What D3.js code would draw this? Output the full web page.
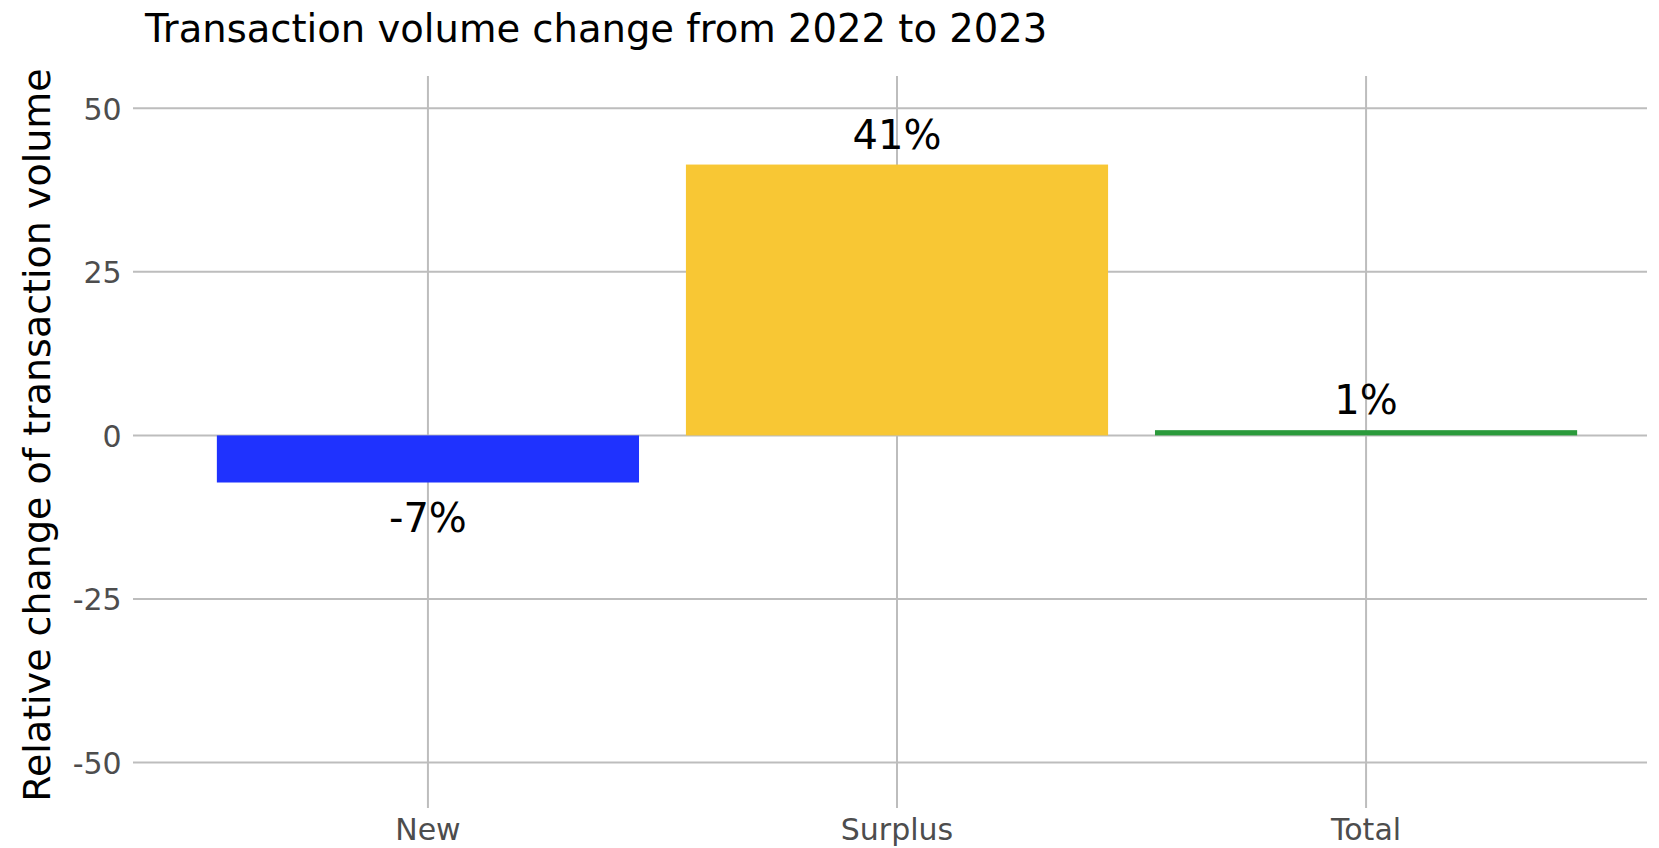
<!DOCTYPE html>
<html>
<head>
<meta charset="utf-8">
<script src="https://cdn.jsdelivr.net/npm/d3@7"></script>
<style>
  html, body { margin: 0; padding: 0; background: #fff; }
  svg { display: block; font-family: "DejaVu Sans", sans-serif; }
</style>
</head>
<body>
<svg id="chart" width="1659" height="848"></svg>
<script>
// ---- data ----
const categories = ["New", "Surplus", "Total"];
const values = [-7.2, 41.4, 0.8];
const labels = ["-7%", "41%", "1%"];
const colors = ["#1f32fe", "#f8c734", "#2b9a3b"];
const yTicks = [-50, -25, 0, 25, 50];
const yTickLabels = ["-50", "-25", "0", "25", "50"];
const titleText = "Transaction volume change from 2022 to 2023";
const yTitleText = "Relative change of transaction volume";

// ---- layout ----
const W = 1659, H = 848;
const panel = { left: 133, right: 1647, top: 76, bottom: 808 };
const svg = d3.select("#chart");

const x = d3.scaleBand()
  .domain(categories)
  .range([146.5, 1647.5])
  .paddingInner(0.1)
  .paddingOuter(0.15);

const y = d3.scaleLinear()
  .domain([-50, 50])
  .range([762.5, 108.3]);

const gridColor = "#bdbdbd";

// horizontal gridlines
svg.append("g").selectAll("line")
  .data(yTicks).join("line")
  .attr("x1", panel.left).attr("x2", panel.right)
  .attr("y1", d => y(d)).attr("y2", d => y(d))
  .attr("stroke", gridColor).attr("stroke-width", 2);

// vertical gridlines
svg.append("g").selectAll("line")
  .data(categories).join("line")
  .attr("x1", d => x(d) + x.bandwidth() / 2).attr("x2", d => x(d) + x.bandwidth() / 2)
  .attr("y1", panel.top).attr("y2", panel.bottom)
  .attr("stroke", gridColor).attr("stroke-width", 2);

// y axis tick labels
const yAxis = d3.axisLeft(y).tickValues(yTicks).tickSize(0).tickPadding(0)
  .tickFormat((d, i) => yTickLabels[i]);
const gy = svg.append("g").attr("transform", `translate(${121.7},0)`).call(yAxis);
gy.select(".domain").remove();
gy.selectAll("text")
  .attr("font-family", "DejaVu Sans").attr("font-size", 30).attr("fill", "#4d4d4d")
  .attr("dy", "0.36em");

// x axis tick labels
const xAxis = d3.axisBottom(x).tickSize(0).tickPadding(0);
const gx = svg.append("g").attr("transform", `translate(0,${840})`).call(xAxis);
gx.select(".domain").remove();
gx.selectAll("text")
  .attr("font-family", "DejaVu Sans").attr("font-size", 30).attr("fill", "#4d4d4d")
  .attr("y", 0).attr("dy", 0);

// bars
const data = categories.map((c, i) => ({ c, v: values[i], label: labels[i], color: colors[i] }));
svg.append("g").selectAll("rect")
  .data(data).join("rect")
  .attr("x", d => x(d.c))
  .attr("width", x.bandwidth())
  .attr("y", d => y(Math.max(0, d.v)))
  .attr("height", d => Math.abs(y(d.v) - y(0)))
  .attr("fill", d => d.color);

// value labels
svg.append("g").selectAll("text")
  .data(data).join("text")
  .attr("x", d => x(d.c) + x.bandwidth() / 2)
  .attr("y", d => d.v >= 0 ? y(d.v) - 16 : y(d.v) + 49)
  .attr("text-anchor", "middle")
  .attr("font-family", "DejaVu Sans").attr("font-size", 40).attr("fill", "#000")
  .text(d => d.label);

// title
svg.append("text")
  .attr("x", 145).attr("y", 42)
  .attr("font-family", "DejaVu Sans").attr("font-size", 38.5).attr("fill", "#000")
  .text(titleText);

// y title
svg.append("text")
  .attr("transform", `translate(${50},${435}) rotate(-90)`)
  .attr("text-anchor", "middle")
  .attr("font-family", "DejaVu Sans").attr("font-size", 38).attr("fill", "#000")
  .text(yTitleText);
</script>
</body>
</html>
